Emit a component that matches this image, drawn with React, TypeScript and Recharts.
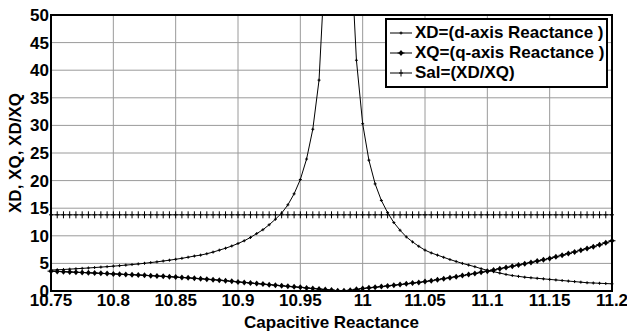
import { LineChart, Line, XAxis, YAxis, CartesianGrid, ReferenceArea, Legend } from 'recharts';

// capacitive reactance, sampled every 0.005
const xValues = [
  10.75, 10.755, 10.76, 10.765, 10.77, 10.775, 10.78, 10.785, 10.79, 10.795,
  10.8, 10.805, 10.81, 10.815, 10.82, 10.825, 10.83, 10.835, 10.84, 10.845,
  10.85, 10.855, 10.86, 10.865, 10.87, 10.875, 10.88, 10.885, 10.89, 10.895,
  10.9, 10.905, 10.91, 10.915, 10.92, 10.925, 10.93, 10.935, 10.94, 10.945,
  10.95, 10.955, 10.96, 10.965, 10.97, 10.975, 10.98, 10.985, 10.99, 10.995,
  11.0, 11.005, 11.01, 11.015, 11.02, 11.025, 11.03, 11.035, 11.04, 11.045,
  11.05, 11.055, 11.06, 11.065, 11.07, 11.075, 11.08, 11.085, 11.09, 11.095,
  11.1, 11.105, 11.11, 11.115, 11.12, 11.125, 11.13, 11.135, 11.14, 11.145,
  11.15, 11.155, 11.16, 11.165, 11.17, 11.175, 11.18, 11.185, 11.19, 11.195,
  11.2,
];

const xdValues = [
  3.8, 3.84, 3.9, 3.96, 4.03, 4.1, 4.17, 4.25, 4.33, 4.41,
  4.5, 4.59, 4.69, 4.79, 4.9, 5.02, 5.15, 5.28, 5.43, 5.58,
  5.75, 5.92, 6.12, 6.33, 6.5, 6.75, 7.05, 7.4, 7.75, 8.15,
  8.6, 9.1, 9.7, 10.4, 11.1, 12.0, 13.0, 14.1, 15.6, 17.6,
  20.2, 23.9, 29.3, 38.2, 60, 95, 260, 190, 64, 41.8,
  30.3, 23.7, 19.4, 16.4, 14.2, 12.4, 11.0, 9.8, 8.9, 8.1,
  7.4, 6.9, 6.5, 6.1, 5.7, 5.35, 5.0, 4.7, 4.4, 4.05,
  3.75, 3.5, 3.25, 3.0, 2.8, 2.65, 2.5, 2.4, 2.3, 2.2,
  2.1, 2.0, 1.9, 1.8, 1.7, 1.6, 1.5, 1.45, 1.4, 1.35,
  1.3,
];

const xqValues = [
  3.6, 3.55, 3.5, 3.45, 3.4, 3.35, 3.3, 3.25, 3.2, 3.15,
  3.1, 3.05, 3.0, 2.95, 2.9, 2.84, 2.78, 2.72, 2.66, 2.6,
  2.52, 2.45, 2.38, 2.3, 2.22, 2.14, 2.05, 1.96, 1.86, 1.76,
  1.65, 1.55, 1.45, 1.35, 1.25, 1.15, 1.05, 0.95, 0.85, 0.75,
  0.66, 0.56, 0.46, 0.36, 0.26, 0.16, 0.06, 0.04, 0.14, 0.3,
  0.45, 0.57, 0.68, 0.8, 0.92, 1.04, 1.17, 1.3, 1.43, 1.56,
  1.7, 1.87, 2.05, 2.23, 2.41, 2.6, 2.79, 2.98, 3.18, 3.39,
  3.6, 3.82, 4.04, 4.26, 4.49, 4.72, 4.95, 5.18, 5.42, 5.66,
  5.9, 6.19, 6.48, 6.78, 7.08, 7.39, 7.7, 8.03, 8.37, 8.73,
  9.1,
];

const salValues = [
  13.8, 13.8, 13.8, 13.8, 13.8, 13.8, 13.8, 13.8, 13.8, 13.8,
  13.8, 13.8, 13.8, 13.8, 13.8, 13.8, 13.8, 13.8, 13.8, 13.8,
  13.8, 13.8, 13.8, 13.8, 13.8, 13.8, 13.8, 13.8, 13.8, 13.8,
  13.8, 13.8, 13.8, 13.8, 13.8, 13.8, 13.8, 13.8, 13.8, 13.8,
  13.8, 13.8, 13.8, 13.8, 13.8, 13.8, 13.8, 13.8, 13.8, 13.8,
  13.8, 13.8, 13.8, 13.8, 13.8, 13.8, 13.8, 13.8, 13.8, 13.8,
  13.8, 13.8, 13.8, 13.8, 13.8, 13.8, 13.8, 13.8, 13.8, 13.8,
  13.8, 13.8, 13.8, 13.8, 13.8, 13.8, 13.8, 13.8, 13.8, 13.8,
  13.8, 13.8, 13.8, 13.8, 13.8, 13.8, 13.8, 13.8, 13.8, 13.8,
  13.8,
];

const xTicks = [10.75, 10.8, 10.85, 10.9, 10.95, 11, 11.05, 11.1, 11.15, 11.2];
const yTicks = [0, 5, 10, 15, 20, 25, 30, 35, 40, 45, 50];

const seriesNames = ['XD=(d-axis Reactance )', 'XQ=(q-axis Reactance )', 'Sal=(XD/XQ)'];

const data = xValues.map((x, i) => ({ x, xd: xdValues[i], xq: xqValues[i], sal: salValues[i] }));

const FONT = '"Liberation Sans", Arial, sans-serif';

// markers
const PlusDot = ({ cx, cy }: any) => {
  if (cx == null || cy == null) return null;
  return (
    <g stroke="#000" strokeWidth={1}>
      <line x1={cx - 1.5} y1={cy} x2={cx + 1.5} y2={cy} />
      <line x1={cx} y1={cy - 1.5} x2={cx} y2={cy + 1.5} />
    </g>
  );
};

const DiamondDot = ({ cx, cy }: any) => {
  if (cx == null || cy == null) return null;
  return (
    <g>
      <path d={`M${cx - 2.5},${cy} L${cx},${cy - 3} L${cx + 2.5},${cy} L${cx},${cy + 3} Z`} fill="#000" />
      <line x1={cx - 3.5} y1={cy} x2={cx + 3.5} y2={cy} stroke="#000" strokeWidth={1} />
    </g>
  );
};

const TickDot = ({ cx, cy }: any) => {
  if (cx == null || cy == null) return null;
  return (
    <g stroke="#000" strokeWidth={1}>
      <line x1={cx} y1={cy - 3.5} x2={cx} y2={cy + 3.5} />
      <line x1={cx - 2} y1={cy} x2={cx + 2} y2={cy} />
    </g>
  );
};

const legendMarkers = [PlusDot, DiamondDot, TickDot];

const LegendBox = () => (
  <div
    style={{
      width: 219,
      height: 63,
      border: '2px solid #000',
      background: '#fff',
      fontFamily: FONT,
      fontWeight: 'bold',
      fontSize: 17,
      color: '#000',
      paddingTop: 3,
      boxSizing: 'content-box',
    }}
  >
    {seriesNames.map((name, i) => {
      const Marker = legendMarkers[i];
      return (
        <div key={name} style={{ display: 'flex', alignItems: 'center', height: 20, lineHeight: '20px', whiteSpace: 'nowrap' }}>
          <svg width={26} height={12} style={{ marginLeft: 2 }}>
            <line x1={1} y1={6} x2={23} y2={6} stroke="#000" strokeWidth={1} />
            <Marker cx={12} cy={6} />
          </svg>
          <span>{name}</span>
        </div>
      );
    })}
  </div>
);

const YLabel = ({ viewBox }: any) => {
  const cy = viewBox.y + viewBox.height / 2;
  return (
    <text x={15} y={cy} transform={`rotate(-90, 15, ${cy})`} textAnchor="middle" dominantBaseline="central"
      fontFamily={FONT} fontWeight="bold" fontSize={17} fill="#000">
      XD, XQ, XD/XQ
    </text>
  );
};

const XLabel = ({ viewBox }: any) => {
  const cx = viewBox.x + viewBox.width / 2;
  return (
    <text x={cx} y={328} textAnchor="middle" fontFamily={FONT} fontWeight="bold" fontSize={17} fill="#000">
      Capacitive Reactance
    </text>
  );
};

const XTick = ({ x, y, payload }: any) => (
  <text x={x} y={y + 15} textAnchor="middle" fontFamily={FONT} fontWeight="bold" fontSize={17} fill="#000">
    {String(payload.value)}
  </text>
);

const YTick = ({ x, y, payload }: any) => (
  <text x={x} y={y + 6} textAnchor="end" fontFamily={FONT} fontWeight="bold" fontSize={17} fill="#000">
    {String(payload.value)}
  </text>
);

export default function App() {
  return (
    <div style={{ position: 'absolute', left: 0, top: 0, width: 627, height: 331, background: '#fff' }}>
      <LineChart width={627} height={331} data={data} margin={{ top: 15, right: 15, left: 0, bottom: 0 }}>
        <CartesianGrid stroke="#9a9a9a" strokeWidth={1} horizontalValues={yTicks} verticalValues={xTicks} />
        <XAxis
          dataKey="x"
          type="number"
          domain={[10.75, 11.2]}
          ticks={xTicks}
          interval={0}
          height={40}
          tickLine={false}
          tickSize={0}
          tickMargin={0}
          stroke="#000"
          axisLine={{ stroke: '#000', strokeWidth: 2 }}
          tick={<XTick />}
          label={<XLabel />}
        />
        <YAxis
          type="number"
          domain={[0, 50]}
          ticks={yTicks}
          interval={0}
          allowDataOverflow
          width={51}
          tickLine={false}
          tickSize={0}
          tickMargin={2}
          stroke="#000"
          axisLine={{ stroke: '#000', strokeWidth: 2 }}
          tick={<YTick />}
          label={<YLabel />}
        />
        <ReferenceArea x1={10.75} x2={11.2} y1={0} y2={50} fill="none" stroke="#000" strokeWidth={2} ifOverflow="visible" />
        <Line dataKey="xd" stroke="#000" strokeWidth={1} dot={<PlusDot />} activeDot={false} isAnimationActive={false} />
        <Line dataKey="xq" stroke="#000" strokeWidth={1} dot={<DiamondDot />} activeDot={false} isAnimationActive={false} />
        <Line dataKey="sal" stroke="#000" strokeWidth={1} dot={<TickDot />} activeDot={false} isAnimationActive={false} />
        <Legend
          layout="vertical"
          align="center"
          verticalAlign="middle"
          content={<LegendBox />}
          wrapperStyle={{ position: 'absolute', left: 385, top: 18, width: 'auto', height: 'auto' }}
        />
      </LineChart>
    </div>
  );
}
